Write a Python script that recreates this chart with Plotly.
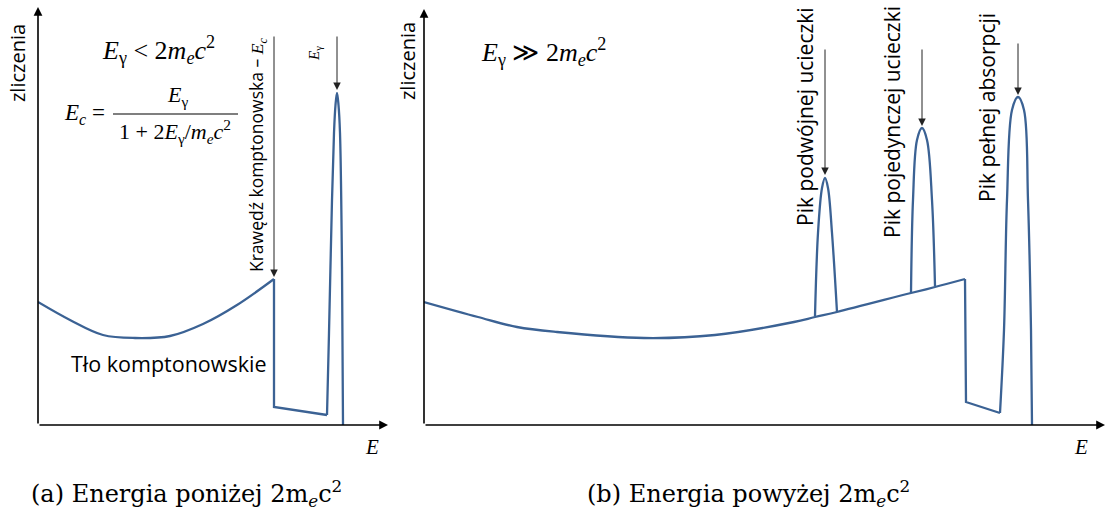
import plotly.graph_objects as go

W, H = 1109, 510

# ---------------- data (arbitrary units: E = energy, N = counts) ----------------
# Panel (a): E_gamma < 2 m_e c^2
a_bg_E = [0, 32, 65, 97, 132, 165, 199, 236]
a_bg_N = [123, 105, 90, 87, 89, 101, 120, 146]
a_edge_E = [236, 236, 289]
a_edge_N = [146, 18, 10]
a_peak_E = [289, 291, 294, 296, 297.5, 299, 300.5, 302, 304, 305]
a_peak_N = [10, 92, 225, 292, 320, 332, 320, 292, 158, 0]

# Panel (b): E_gamma >> 2 m_e c^2
b_bg_E = [0, 54, 93, 133, 220, 291, 370, 391, 413, 487, 511, 541]
b_bg_N = [123, 108, 98, 93, 87, 90, 103, 108, 113, 132, 138, 146]
b_de_E = [391, 394, 398, 401, 404, 408, 413]
b_de_N = [109, 192, 237, 247, 237, 192, 113]
b_se_E = [487, 489, 493, 498, 503, 508, 511]
b_se_N = [132, 225, 285, 297, 285, 225, 139]
b_edge_E = [541, 542, 576]
b_edge_N = [146, 23, 12]
b_fe_E = [576, 580, 583, 588, 594, 600, 604, 607, 608]
b_fe_N = [12, 95, 225, 315, 328, 315, 225, 95, 0]

# label arrows: (E, N_from, N_to)
a_arrows = [(236, 390, 148), (299, 390, 335)]
b_arrows = [(401, 377, 250), (498, 377, 299), (594, 383, 330)]

LINE = "#3b6294"
SANS = "Open Sans"
SERIF = "Liberation Serif"
CAPTION = "DejaVu Serif"

fig = go.Figure()

def add_line(E, N, xa, ya, shape="linear"):
    fig.add_trace(go.Scatter(x=E, y=N, xaxis=xa, yaxis=ya, mode="lines",
                             line=dict(color=LINE, width=2.3, shape=shape, smoothing=1.0),
                             hoverinfo="skip", showlegend=False))

add_line(a_bg_E, a_bg_N, "x", "y", "spline")
add_line(a_edge_E, a_edge_N, "x", "y")
add_line(a_peak_E, a_peak_N, "x", "y", "spline")

add_line(b_bg_E, b_bg_N, "x2", "y2", "spline")
add_line(b_de_E, b_de_N, "x2", "y2", "spline")
add_line(b_se_E, b_se_N, "x2", "y2", "spline")
add_line(b_edge_E, b_edge_N, "x2", "y2")
add_line(b_fe_E, b_fe_N, "x2", "y2", "spline")

def dom_x(p0, p1):
    return [p0 / W, p1 / W]

ydom = [(H - 425) / H, (H - 5) / H]
ax_common = dict(visible=False, showgrid=False, zeroline=False, fixedrange=True)
fig.update_layout(
    xaxis=dict(domain=dom_x(38, 390), range=[0, 352], anchor="y", **ax_common),
    yaxis=dict(domain=ydom, range=[0, 420], anchor="x", **ax_common),
    xaxis2=dict(domain=dom_x(424, 1107), range=[0, 683], anchor="y2", **ax_common),
    yaxis2=dict(domain=ydom, range=[0, 420], anchor="x2", **ax_common),
)

ann = []

def arrow(xref, yref, x0, y0, x1, y1, width=1.0, color="#222", size=1.5, head=2):
    ann.append(dict(x=x1, y=y1, ax=x0, ay=y0, xref=xref, yref=yref, axref=xref, ayref=yref,
                    text="", showarrow=True, arrowhead=head, arrowsize=size,
                    arrowwidth=width, arrowcolor=color, standoff=0, startstandoff=0))

# axes drawn as arrows
arrow("x", "y", 0, 0, 350, 0, width=1.6, color="black", size=1.1)
arrow("x", "y", 0, 0, 0, 418, width=1.6, color="black", size=1.1)
arrow("x2", "y2", 0, 0, 681, 0, width=1.6, color="black", size=1.1)
arrow("x2", "y2", 0, 0, 0, 416, width=1.6, color="black", size=1.1)

for E, n0, n1 in a_arrows:
    arrow("x", "y", E, n0, E, n1)
for E, n0, n1 in b_arrows:
    arrow("x2", "y2", E, n0, E, n1)

def P(px, py):
    return px / W, 1 - py / H

def text(px, py, s, size, family, angle=0, xanchor="center", color="black"):
    x, y = P(px, py)
    ann.append(dict(x=x, y=y, xref="paper", yref="paper", text=s, showarrow=False,
                    textangle=angle, xanchor=xanchor, yanchor="middle",
                    font=dict(size=size, family=family, color=color)))

# axis labels
text(17, 63, "zliczenia", 20, SANS, angle=-90)
text(407, 61, "zliczenia", 20, SANS, angle=-90)
text(372, 447, "<i>E</i>", 21, SERIF)
text(1081, 447, "<i>E</i>", 21, SERIF)

# panel (a) formulas
text(158, 50, "<i>E</i><sub>γ</sub> &lt; 2<i>m</i><sub><i>e</i></sub><i>c</i><sup>2</sup>", 26, SERIF)
text(84, 114, "<i>E</i><sub><i>c</i></sub> =", 23, SERIF)
text(177, 96, "<i>E</i><sub>γ</sub>", 22, SERIF)
text(175, 131, "1 + 2<i>E</i><sub>γ</sub>/<i>m</i><sub><i>e</i></sub><i>c</i><sup>2</sup>", 22, SERIF)

# panel (a) labels
text(257, 155, "Krawędź komptonowska – <span style='font-family:Liberation Serif'><i>E</i><sub><i>c</i></sub></span>",
     17.5, SANS, angle=-90)
text(315, 53, "<i>E</i><sub>γ</sub>", 15, SERIF, angle=-90)
text(169, 363, "Tło komptonowskie", 21.5, SANS)

# panel (b)
text(543, 52, "<i>E</i><sub>γ</sub> ≫ 2<i>m</i><sub><i>e</i></sub><i>c</i><sup>2</sup>", 26, SERIF)
text(805, 117, "Pik podwójnej ucieczki", 21, SANS, angle=-90)
text(892, 122, "Pik pojedynczej ucieczki", 21, SANS, angle=-90)
text(987, 108, "Pik pełnej absorpcji", 21, SANS, angle=-90)

# captions
text(186, 493, "(a) Energia poniżej 2m<sub><i>e</i></sub>c<sup>2</sup>", 24, CAPTION)
text(748, 493, "(b) Energia powyżej 2m<sub><i>e</i></sub>c<sup>2</sup>", 24, CAPTION)

# fraction bar
fx0, fy = P(113, 114)
fx1, _ = P(238, 114)
shapes = [dict(type="line", xref="paper", yref="paper", x0=fx0, x1=fx1, y0=fy, y1=fy,
               line=dict(color="black", width=1.2))]

fig.update_layout(width=W, height=H, margin=dict(l=0, r=0, t=0, b=0), autosize=False,
                  paper_bgcolor="white", plot_bgcolor="white",
                  annotations=ann, shapes=shapes, showlegend=False)

fig.write_html("out.html")
